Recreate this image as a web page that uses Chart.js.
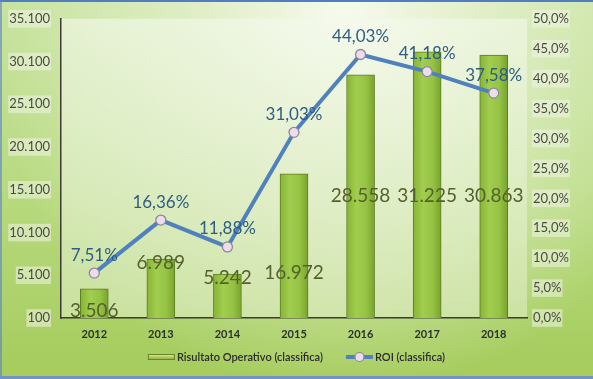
<!DOCTYPE html>
<html>
<head>
<meta charset="utf-8">
<script src="https://cdn.jsdelivr.net/npm/chart.js@4.4.1/dist/chart.umd.min.js"></script>
<style>
html,body{margin:0;padding:0;background:#a9d064;}
#wrap{width:593px;height:379px;position:relative;}
</style>
</head>
<body>
<div id="wrap"><canvas id="c" width="593" height="379"></canvas></div>
<script>
const categories = ['2012','2013','2014','2015','2016','2017','2018'];
const risultatoOperativo = [3506, 6989, 5242, 16972, 28558, 31225, 30863];
const roi = [7.51, 16.36, 11.88, 31.03, 44.03, 41.18, 37.58];
const seriesNames = ['Risultato Operativo (classifica)', 'ROI (classifica)'];
const leftTicks = {min: 100, max: 35100, step: 5000};
const rightTicks = {min: 0, max: 50, step: 5};

function fmtThousands(v){
  const s = String(Math.round(v));
  return s.replace(/\B(?=(\d{3})+(?!\d))/g, '.');
}
function fmtPct(v, d){
  return v.toFixed(d).replace('.', ',') + '%';
}

const FONT = 'Lato, "Open Sans", sans-serif';
const BAR_W = 28;

const bgPlugin = {
  id: 'bg',
  beforeDraw(chart){
    const ctx = chart.ctx, W = chart.width, H = chart.height;
    ctx.save();
    let g = ctx.createLinearGradient(0, 0, 0, H);
    g.addColorStop(0, '#c6e29c');
    g.addColorStop(0.5, '#b8da80');
    g.addColorStop(1, '#a5cc5c');
    ctx.fillStyle = g;
    ctx.fillRect(0, 0, W, H);
    let r = ctx.createRadialGradient(W*0.58, H*0.05, 10, W*0.58, H*0.1, W*0.6);
    r.addColorStop(0, 'rgba(248,251,240,0.95)');
    r.addColorStop(0.6, 'rgba(235,244,218,0.45)');
    r.addColorStop(1, 'rgba(235,244,218,0)');
    ctx.fillStyle = r;
    ctx.fillRect(0, 0, W, H);
    const a = chart.chartArea;
    let pg = ctx.createLinearGradient(0, a.top, 0, a.bottom);
    pg.addColorStop(0, 'rgba(244,249,236,0.6)');
    pg.addColorStop(1, 'rgba(222,236,196,0.6)');
    ctx.fillStyle = pg;
    ctx.fillRect(a.left, a.top, a.right - a.left, a.bottom - a.top);
    ctx.fillStyle = '#4f7fc0';
    ctx.fillRect(0, 0, W, 2);
    ctx.fillStyle = 'rgba(90,130,200,0.6)';
    ctx.fillRect(0, 0, 2, H);
    ctx.fillStyle = '#7393c8';
    ctx.fillRect(0, H - 3, W, 3);
    ctx.restore();
  }
};

const labelsPlugin = {
  id: 'labels',
  afterDatasetsDraw(chart){
    const ctx = chart.ctx;
    const a = chart.chartArea;
    ctx.save();
    ctx.textAlign = 'center';
    ctx.textBaseline = 'middle';
    const mb = chart.getDatasetMeta(1);
    ctx.font = '19px ' + FONT;
    ctx.fillStyle = '#55612c';
    mb.data.forEach((el, i) => {
      const top = el.y, base = el.base, h = base - top;
      let y;
      if (h > 200) y = base - 0.41 * (a.bottom - a.top);
      else if (h > 100) y = base - 0.32 * h;
      else if (h > 30) y = top + 4;
      else y = base - 8;
      ctx.fillText(fmtThousands(risultatoOperativo[i]), el.x, y);
    });
    const ml = chart.getDatasetMeta(0);
    ctx.font = '17px ' + FONT;
    ctx.fillStyle = '#2e5d82';
    ml.data.forEach((el, i) => {
      ctx.fillText(fmtPct(roi[i], 2), el.x, el.y - 18);
    });
    ctx.restore();
  }
};

const legendPlugin = {
  id: 'customLegend',
  afterDraw(chart){
    const ctx = chart.ctx;
    ctx.save();
    ctx.font = '600 11px ' + FONT;
    ctx.textBaseline = 'middle';
    const y = 357;
    const iconW = 27, gap = 2, sep = 23;
    const w1 = ctx.measureText(seriesNames[0]).width;
    const w2 = ctx.measureText(seriesNames[1]).width;
    const total = iconW + gap + w1 + sep + iconW + gap + w2;
    let x = (chart.width - total) / 2;
    let g = ctx.createLinearGradient(0, y - 3, 0, y + 3);
    g.addColorStop(0, '#e4f0a0');
    g.addColorStop(1, '#86a632');
    ctx.fillStyle = g;
    ctx.fillRect(x, y - 3, iconW, 6);
    ctx.strokeStyle = '#6a8428';
    ctx.lineWidth = 1;
    ctx.strokeRect(x + 0.5, y - 2.5, iconW - 1, 5);
    x += iconW + gap;
    ctx.fillStyle = '#2b2b2b';
    ctx.fillText(seriesNames[0], x, y);
    x += w1 + sep;
    ctx.strokeStyle = '#4f81bd';
    ctx.lineWidth = 4;
    ctx.beginPath();
    ctx.moveTo(x, y); ctx.lineTo(x + iconW, y);
    ctx.stroke();
    ctx.beginPath();
    ctx.arc(x + iconW / 2, y, 4.5, 0, Math.PI * 2);
    ctx.fillStyle = '#eddcea';
    ctx.fill();
    ctx.lineWidth = 1.2;
    ctx.strokeStyle = '#8a8a9c';
    ctx.stroke();
    x += iconW + gap;
    ctx.fillStyle = '#2b2b2b';
    ctx.fillText(seriesNames[1], x, y);
    ctx.restore();
  }
};

function barGradient(context){
  const chart = context.chart;
  const xs = chart.scales && chart.scales.x;
  if (!chart.chartArea || !xs) return '#96c344';
  const x = xs.getPixelForValue(context.dataIndex);
  if (!isFinite(x)) return '#96c344';
  const g = chart.ctx.createLinearGradient(x - BAR_W/2, 0, x + BAR_W/2, 0);
  g.addColorStop(0, '#86b436');
  g.addColorStop(0.35, '#a2cd4e');
  g.addColorStop(0.7, '#96c344');
  g.addColorStop(1, '#78a42c');
  return g;
}

new Chart(document.getElementById('c'), {
  data: {
    labels: categories,
    datasets: [
      {
        type: 'line',
        label: seriesNames[1],
        data: roi,
        yAxisID: 'y2',
        borderColor: '#4f81bd',
        borderWidth: 4,
        pointRadius: 5,
        pointBackgroundColor: '#eddcea',
        pointBorderColor: '#8a8a9c',
        pointBorderWidth: 1.3,
        tension: 0,
        order: 0
      },
      {
        type: 'bar',
        label: seriesNames[0],
        data: risultatoOperativo,
        yAxisID: 'y',
        backgroundColor: barGradient,
        borderColor: '#5d7d22',
        borderWidth: 1,
        barThickness: BAR_W,
        order: 1
      }
    ]
  },
  options: {
    responsive: false,
    animation: false,
    devicePixelRatio: 1,
    layout: {padding: {top: 15, left: 0, right: 0, bottom: 0}},
    plugins: {legend: {display: false}, tooltip: {enabled: false}},
    scales: {
      x: {
        offset: true,
        grid: {display: false, drawTicks: false},
        border: {display: true, color: '#3c3c34', width: 1.5},
        ticks: {
          color: '#2e2e2e',
          font: {family: FONT, size: 11, weight: 'bold'},
          padding: 10
        },
        afterFit(s){ s.height = 61; }
      },
      y: {
        position: 'left',
        min: leftTicks.min,
        max: leftTicks.max,
        grid: {display: false, drawTicks: false},
        border: {display: true, color: '#3c3c34', width: 1.5},
        ticks: {
          stepSize: leftTicks.step,
          color: '#4a4a42',
          font: {family: FONT, size: 13},
          padding: 11,
          showLabelBackdrop: true,
          backdropColor: 'rgba(238,244,228,0.55)',
          backdropPadding: 1,
          callback: (v) => fmtThousands(v)
        },
        afterFit(s){ s.width = 61; }
      },
      y2: {
        position: 'right',
        min: rightTicks.min,
        max: rightTicks.max,
        grid: {display: false, drawTicks: false},
        border: {display: false},
        ticks: {
          stepSize: rightTicks.step,
          color: '#4a4a42',
          font: {family: FONT, size: 13},
          padding: 6,
          showLabelBackdrop: true,
          backdropColor: 'rgba(238,244,228,0.55)',
          backdropPadding: 1,
          callback: (v) => fmtPct(v, 1)
        },
        afterFit(s){ s.width = 66; }
      }
    }
  },
  plugins: [bgPlugin, labelsPlugin, legendPlugin]
});
</script>
</body>
</html>
